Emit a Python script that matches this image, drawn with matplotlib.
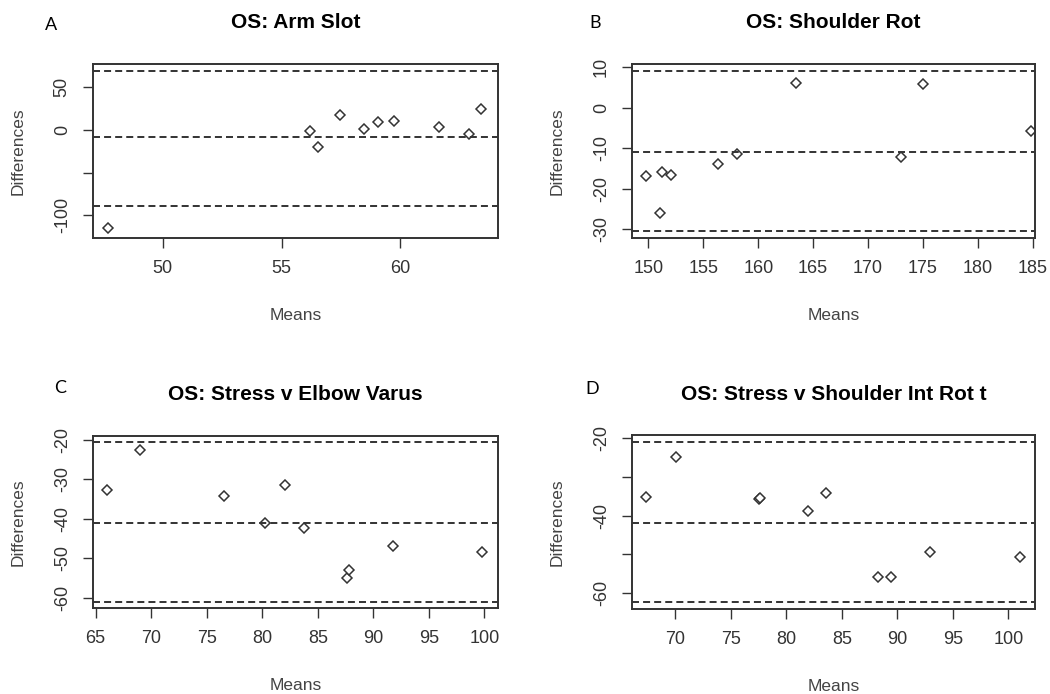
import matplotlib.pyplot as plt

# Bland-Altman data
arm_means = [47.68, 56.19, 56.54, 57.44, 58.45, 59.06, 59.71, 61.60, 62.86, 63.40]
arm_diffs = [-115.0, -1.9, -20.4, 16.9, 1.2, 8.8, 10.4, 2.7, -5.0, 24.2]
arm_lines = [68.8, -8.8, -89.3]

sh_means = [149.79, 151.09, 151.21, 152.09, 156.36, 158.09, 163.45, 173.0, 175.03, 184.88]
sh_diffs = [-16.9, -26.1, -15.9, -16.6, -13.85, -11.5, 6.1, -12.2, 5.8, -5.85]
sh_lines = [9.1, -11.05, -30.5]

ev_means = [66.02, 69.03, 76.53, 80.27, 82.06, 83.74, 87.60, 87.85, 91.78, 99.79]
ev_diffs = [-32.7, -22.5, -34.1, -41.05, -31.4, -42.2, -54.9, -53.0, -47.0, -48.4]
ev_lines = [-20.6, -41.0, -61.1]

sir_means = [67.4, 70.03, 77.5, 77.66, 81.97, 83.56, 88.22, 89.4, 92.9, 101.07]
sir_diffs = [-35.1, -24.7, -35.8, -35.5, -38.7, -34.1, -56.0, -56.0, -49.5, -50.8]
sir_lines = [-20.95, -41.9, -62.5]

panels = [
    ('A', 'OS: Arm Slot', arm_means, arm_diffs, arm_lines,
     (47.07, 64.1), (-126.6, 76.9), [50, 55, 60],
     [50, 0, -50, -100], ['50', '0', '', '-100']),
    ('B', 'OS: Shoulder Rot', sh_means, sh_diffs, sh_lines,
     (148.5, 185.2), (-32.2, 10.8), [150, 155, 160, 165, 170, 175, 180, 185],
     [10, 0, -10, -20, -30], ['10', '0', '-10', '-20', '-30']),
    ('C', 'OS: Stress v Elbow Varus', ev_means, ev_diffs, ev_lines,
     (64.76, 101.23), (-62.6, -19.0), [65, 70, 75, 80, 85, 90, 95, 100],
     [-20, -30, -40, -50, -60], ['-20', '-30', '-40', '-50', '-60']),
    ('D', 'OS: Stress v Shoulder Int Rot t', sir_means, sir_diffs, sir_lines,
     (66.1, 102.4), (-64.2, -19.1), [70, 75, 80, 85, 90, 95, 100],
     [-20, -30, -40, -50, -60], ['-20', '', '-40', '', '-60']),
]

W, H = 1050, 694
fig = plt.figure(figsize=(10.5, 6.94), dpi=100)
plt.rcParams['font.family'] = ['Liberation Sans', 'DejaVu Sans']

# axes boxes in pixels: left, top, right, bottom
boxes = [(93, 64, 498, 238), (632, 64, 1035, 238),
         (93, 436, 498, 608), (632, 435, 1035, 609)]
letter_pos = [(51, 25), (595, 23), (60, 388), (592, 389)]
title_y = [23, 23, 394, 394]

for i, (letter, title, xs, ys, lines, xlim, ylim, xt, yt, ytl) in enumerate(panels):
    l, t, r, b = boxes[i]
    ax = fig.add_axes([l / W, (H - b) / H, (r - l) / W, (b - t) / H])
    ax.plot(xs, ys, linestyle='none', marker='D', markersize=4.6,
            markerfacecolor='white', markeredgecolor='#333333', markeredgewidth=1.1)
    for v in lines:
        ax.axhline(v, color='#333333', lw=1.4, linestyle=(0, (3.6, 2.1)))
    ax.set_xlim(xlim)
    ax.set_ylim(ylim)
    ax.set_xticks(xt)
    ax.set_yticks(yt)
    ax.set_yticklabels(ytl, rotation=90, va='center')
    ax.tick_params(length=7, width=1, color='#333333', labelsize=13,
                   labelcolor='#333333', pad=9)
    for s in ax.spines.values():
        s.set_linewidth(1.4)
        s.set_color('#333333')
    ax.set_xlabel('Means', fontsize=12.5, color='#444444', labelpad=22)
    ax.set_ylabel('Differences', fontsize=12.5, color='#444444', labelpad=20)
    fig.text((l + r) / 2 / W, 1 - title_y[i] / H, title, fontsize=15,
             fontweight='bold', ha='center', va='center')
    fig.text(letter_pos[i][0] / W, 1 - letter_pos[i][1] / H, letter,
             fontsize=13, family='Lato', ha='center', va='center')

plt.savefig('out.png', dpi=100)
